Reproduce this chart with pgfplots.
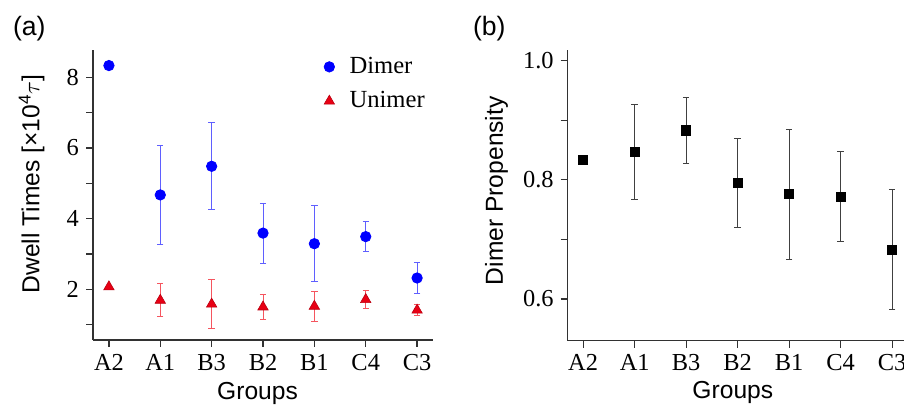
\documentclass[border=0pt]{standalone}
\usepackage{fontspec}
\setmainfont{Liberation Serif}
\setsansfont{Liberation Sans}
\usepackage{pgfplots}
\pgfplotsset{compat=1.18}
\definecolor{dblue}{RGB}{0,0,255}
\definecolor{eblue}{RGB}{95,95,255}
\definecolor{ured}{RGB}{232,0,20}
\definecolor{ered}{RGB}{245,85,95}
\definecolor{axgray}{RGB}{50,50,50}
\newcommand{\tickfont}{\fontsize{12.2}{14}\selectfont\rmfamily}
\newcommand{\labfont}{\fontsize{12.3}{14}\selectfont\sffamily}
\pgfplotsset{
  panel/.style={
    scale only axis,
    axis lines*=left,
    axis line style={-,line width=0.6pt,color=axgray},
    tick align=outside,
    major tick length=3.5pt,
    tick style={line width=0.6pt,color=axgray},
    xtick={0,1,2,3,4,5,6},
    xticklabels={A2,A1,B3,B2,B1,C4,C3},
    ticklabel style={font=\tickfont},
    /pgf/number format/assume math mode=true,
    label style={font=\labfont},
    clip=false,
  }
}
\begin{document}
\begin{tikzpicture}
\path[use as bounding box] (0,0) rectangle (452pt,202.5pt);
% panel labels
\node[anchor=base west,inner sep=0pt,font=\fontsize{13.3}{15}\selectfont\sffamily] at (6.3pt,202.5pt-18pt) {(a)};
\node[anchor=base west,inner sep=0pt,font=\fontsize{13.3}{15}\selectfont\sffamily] at (236.3pt,202.5pt-18pt) {(b)};
% ---------------- panel (a)
\begin{axis}[panel,
  at={(46.5pt,32.5pt)}, anchor=south west,
  width=170pt, height=145pt,
  xmin=-0.31, xmax=6.31,
  ymin=0.566, ymax=8.77,
  ytick={1,2,3,4,5,6,7,8},
  yticklabels={,2,,4,,6,,8},
  xlabel={Groups},
  ylabel={Dwell Times [×10\textsuperscript{4}$\tau$]},
  xlabel style={at={(axis description cs:0.484,-0.2045)},anchor=base},
  ylabel style={at={(axis description cs:-0.158,0.538)},anchor=base},
  legend style={draw=none,fill=none,font=\fontsize{12.3}{14}\selectfont\rmfamily,
    at={(axis description cs:0.661,1.004)},anchor=north west,row sep=3.5pt,
    /tikz/every odd column/.append style={column sep=5.5pt}},
  legend cell align=left,
]
\addplot[only marks, mark=*, mark size=2.6pt, color=dblue,
  error bars/.cd, y dir=both, y explicit,
  error bar style={line width=0.5pt,color=eblue},
  error mark options={rotate=90,mark size=1.6pt,line width=0.5pt,color=eblue}]
  coordinates {
  (1,4.67) +- (0,1.40)
  (2,5.48) +- (0,1.23)
  (3,3.59) +- (0,0.85)
  (4,3.29) +- (0,1.08)
  (5,3.49) +- (0,0.42)
  (6,2.32) +- (0,0.45)
  };
\addlegendentry{Dimer}
\addplot[only marks, mark=*, mark size=2.6pt, color=dblue, forget plot]
  coordinates {(0,8.33)};
\addplot[only marks, mark=triangle*, mark size=3pt, color=ured,
  mark options={draw=ured!80!black,line width=0.3pt},
  error bars/.cd, y dir=both, y explicit,
  error bar style={line width=0.5pt,color=ered},
  error mark options={rotate=90,mark size=1.6pt,line width=0.5pt,color=ered}]
  coordinates {
  (1,1.69) +- (0,0.47)
  (2,1.58) +- (0,0.69)
  (3,1.50) +- (0,0.36)
  (4,1.52) +- (0,0.42)
  (5,1.71) +- (0,0.26)
  (6,1.41) +- (0,0.16)
  };
\addlegendentry{Unimer}
\addplot[only marks, mark=triangle*, mark size=3pt, color=ured, forget plot,
  mark options={draw=ured!80!black,line width=0.3pt}]
  coordinates {(0,2.07)};
\end{axis}
% ---------------- panel (b)
\begin{axis}[panel,
  at={(283.85pt,32.15pt)}, anchor=south west,
  width=168.15pt, height=145.35pt,
  xmin=-0.30, xmax=6.23,
  ymin=0.53, ymax=1.018,
  ytick={0.6,0.7,0.8,0.9,1.0},
  yticklabels={0.6,,0.8,,1.0},
  xlabel={Groups},
  ylabel={Dimer Propensity},
  xlabel style={at={(axis description cs:0.491,-0.2005)},anchor=base},
  ylabel style={at={(axis description cs:-0.193,0.516)},anchor=base},
]
\addplot[only marks, mark=square*, mark size=2.3pt, color=black,
  error bars/.cd, y dir=both, y explicit,
  error bar style={line width=0.5pt,color=black!75},
  error mark options={rotate=90,mark size=1.6pt,line width=0.5pt,color=black!75}]
  coordinates {
  (1,0.847) +- (0,0.080)
  (2,0.883) +- (0,0.056)
  (3,0.795) +- (0,0.075)
  (4,0.776) +- (0,0.109)
  (5,0.772) +- (0,0.076)
  (6,0.683) +- (0,0.101)
  };
\addplot[only marks, mark=square*, mark size=2.3pt, color=black]
  coordinates {(0,0.833)};
\end{axis}
\end{tikzpicture}
\end{document}
